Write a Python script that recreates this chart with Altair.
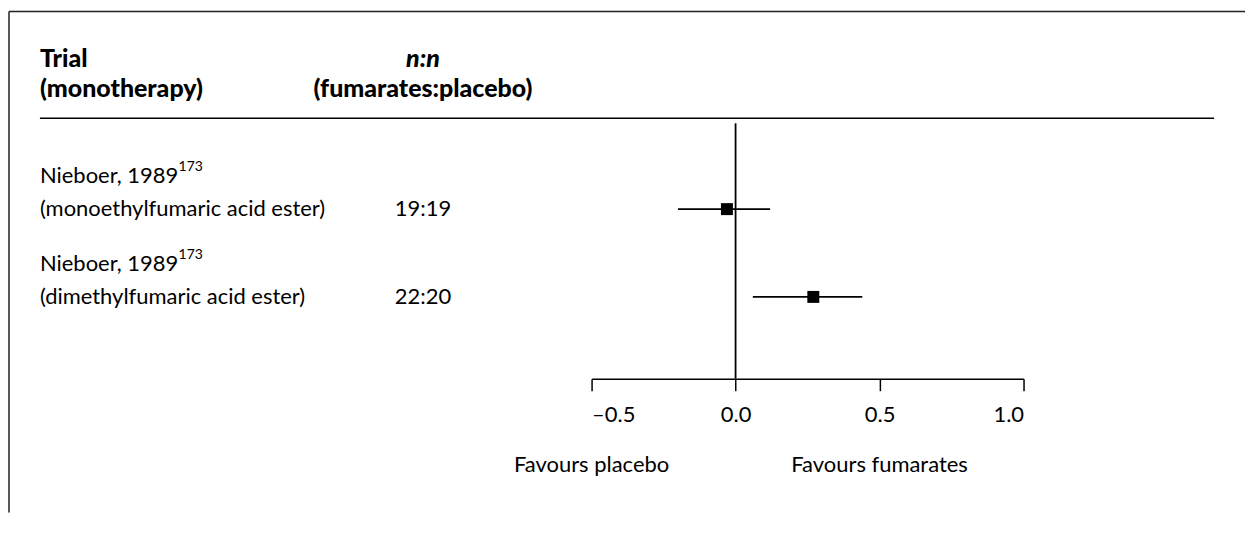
import altair as alt
import pandas as pd

# ---- data ----
trials = ["Nieboer, 1989", "Nieboer, 1989"]
refs = ["173", "173"]
subtitles = ["(monoethylfumaric acid ester)", "(dimethylfumaric acid ester)"]
counts = ["19:19", "22:20"]
effects = [-0.03, 0.27]
lower = [-0.20, 0.06]
upper = [0.12, 0.44]
rows = [0, 1]
tick_values = [-0.5, 0.0, 0.5, 1.0]
favour_labels = ["Favours placebo", "Favours fumarates"]
favour_pos = [-0.5, 0.5]

FONT = "Lato"
FS = 22
HFS = 25
W, H = 1240, 505
AXIS_Y = 371

df = pd.DataFrame({
    "trial": trials, "ref": refs, "sub": subtitles, "n": counts,
    "est": effects, "lo": lower, "hi": upper, "row": rows,
})
fav = pd.DataFrame({"label": favour_labels, "pos": favour_pos})
zero = pd.DataFrame({"zero": [0.0]})

xscale = alt.Scale(domain=[-0.5, 1.0], range=[585, 1018], zero=False, nice=False)
yscale = alt.Scale(domain=[0, 1], range=[201, 289], zero=False, nice=False)
xaxis = alt.Axis(
    values=tick_values, title=None, grid=False, orient="bottom", offset=AXIS_Y - H,
    domainColor="black", domainWidth=1.5, tickColor="black", tickWidth=1.5,
    tickSize=12, labelFont=FONT, labelFontSize=FS, labelColor="black",
    labelPadding=14,
    labelExpr="datum.value < 0 ? '\u2013' + format(-datum.value, '.1f') : format(datum.value, '.1f')",
)


def X(field, **kw):
    return alt.X(field, type="quantitative", scale=xscale, axis=xaxis, **kw)


def Y(field):
    return alt.Y(field, type="quantitative", scale=yscale, axis=None)


base = alt.Chart(df)

whisk = base.mark_rule(color="black", strokeWidth=1.6).encode(
    x=X("lo"), x2="hi", y=Y("row"))
pts = base.mark_square(color="black", size=144, opacity=1, filled=True).encode(
    x=X("est"), y=Y("row"))
zline = alt.Chart(zero).mark_rule(color="black", strokeWidth=1.8).encode(
    x=X("zero"), y=alt.value(115), y2=alt.value(AXIS_Y))

txt = dict(font=FONT, fontSize=FS, color="black", baseline="middle")
lab1 = base.mark_text(align="left", dy=-33, **txt).encode(
    x=alt.value(32), y=Y("row"), text="trial:N")
sup = base.mark_text(align="left", dy=-42, font=FONT, fontSize=14, color="black",
                     baseline="middle").encode(
    x=alt.value(171), y=Y("row"), text="ref:N")
lab2 = base.mark_text(align="left", **txt).encode(
    x=alt.value(32), y=Y("row"), text="sub:N")
ncol = base.mark_text(align="center", **txt).encode(
    x=alt.value(416), y=Y("row"), text="n:N")

favt = alt.Chart(fav).mark_text(align="center", **txt).encode(
    x=X("pos"), y=alt.value(457.5), text="label:N")

htxt = dict(font=FONT, fontSize=HFS, color="black", baseline="middle", fontWeight=900)
h1 = alt.Chart(pd.DataFrame({"t": ["Trial"]})).mark_text(
    align="left", **htxt).encode(
    x=alt.value(32), y=alt.value(51), text="t:N")
h2 = alt.Chart(pd.DataFrame({"t": ["(monotherapy)"]})).mark_text(
    align="left", **htxt).encode(
    x=alt.value(32), y=alt.value(81), text="t:N")
h3 = alt.Chart(pd.DataFrame({"t": ["n:n"]})).mark_text(
    align="center", fontStyle="italic", **htxt).encode(
    x=alt.value(416), y=alt.value(51), text="t:N")
h4 = alt.Chart(pd.DataFrame({"t": ["(fumarates:placebo)"]})).mark_text(
    align="center", **htxt).encode(
    x=alt.value(416), y=alt.value(81), text="t:N")

hrule = alt.Chart(zero).mark_rule(color="black", strokeWidth=1.5).encode(
    x=alt.value(32), x2=alt.value(1209), y=alt.value(110))
frame_l = alt.Chart(zero).mark_rule(color="#222", strokeWidth=1.5).encode(
    x=alt.value(1), y=alt.value(3), y2=alt.value(H))
frame_t = alt.Chart(zero).mark_rule(color="#222", strokeWidth=1.5).encode(
    x=alt.value(1), x2=alt.value(W), y=alt.value(3))

chart = alt.layer(
    whisk, zline, pts, lab1, sup, lab2, ncol, favt, h1, h2, h3, h4,
    hrule, frame_l, frame_t,
).properties(
    width=W, height=H, padding=0, autosize=alt.AutoSizeParams(type="none"),
    background="white",
).configure_view(stroke=None)

chart.save("out.html", embed_options={"renderer": "svg", "actions": False})
